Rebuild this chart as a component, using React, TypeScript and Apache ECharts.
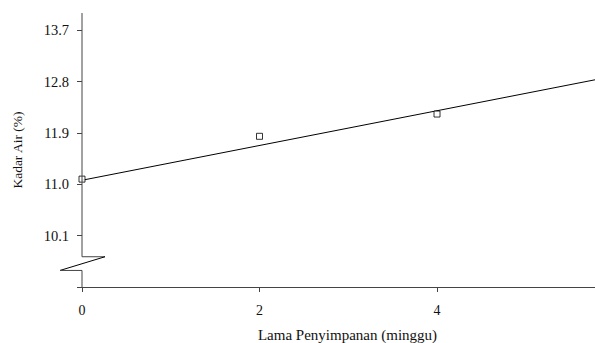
import React, { useEffect, useRef } from "react";
import * as echarts from "echarts";

const weeks = [0, 2, 4];
const moisture = [11.09, 11.84, 12.23];
const trendX = [0, 5.78];
const trendY = [11.07, 12.83];
const yTicks = [9.2, 10.1, 11.0, 11.9, 12.8, 13.7];
const yLabels = [10.1, 11.0, 11.9, 12.8, 13.7];
const xTicks = [0, 2, 4];
const breakTop = 9.73;
const breakBottom = 9.49;

const font = "Liberation Serif";
const axisColor = "#444";

export default function App() {
  const ref = useRef<HTMLDivElement>(null);
  useEffect(() => {
    if (!ref.current) return;
    const chart = echarts.init(ref.current, null, { renderer: "svg" });
    chart.setOption({
      animation: false,
      backgroundColor: "#fff",
      grid: { left: 82, right: 0, top: 13, bottom: 56, containLabel: false, outerBoundsMode: "none" },
      xAxis: {
        type: "value",
        min: 0,
        max: 5.78,
        name: "Lama Penyimpanan (minggu)",
        nameLocation: "middle",
        nameGap: 40,
        nameTextStyle: { fontFamily: font, fontSize: 15, color: "#111", padding: [0, 0, 0, 18] },
        splitLine: { show: false },
        axisLine: { show: true, onZero: false, lineStyle: { color: axisColor, width: 1 } },
        axisTick: { show: true, length: 5, customValues: xTicks, lineStyle: { color: axisColor } },
        axisLabel: {
          customValues: xTicks,
          margin: 16,
          fontFamily: font,
          fontSize: 14,
          color: "#111",
        },
      },
      yAxis: {
        type: "value",
        min: 9.2,
        max: 14.0,
        name: "Kadar Air (%)",
        nameLocation: "middle",
        nameGap: 58,
        nameTextStyle: { fontFamily: font, fontSize: 13.5, color: "#111" },
        splitLine: { show: false },
        axisLine: { show: false },
        axisTick: { show: true, length: 5, customValues: yTicks, lineStyle: { color: axisColor } },
        axisLabel: {
          customValues: yLabels,
          margin: 13,
          fontFamily: font,
          fontSize: 14.5,
          color: "#111",
          formatter: (v: number) => v.toFixed(1),
        },
      },
      series: [
        {
          type: "line",
          data: trendX.map((x, i) => [x, trendY[i]]),
          showSymbol: false,
          lineStyle: { color: "#000", width: 1 },
          z: 2,
        },
        {
          type: "scatter",
          data: weeks.map((x, i) => [x, moisture[i]]),
          symbol: "rect",
          symbolSize: 6,
          itemStyle: { color: "#fff", borderColor: "#000", borderWidth: 1 },
          z: 3,
        },
      ],
    });
    const p = (v: number) => chart.convertToPixel({ gridIndex: 0 }, [0, v]) as number[];
    const top = p(14.0);
    const bt = p(breakTop);
    const bb = p(breakBottom);
    const bot = p(9.2);
    chart.setOption({
      graphic: [
        {
          type: "polyline",
          shape: { points: [top, bt, [bt[0] + 23, bt[1]]] },
          style: { stroke: axisColor, lineWidth: 1, fill: null },
          z: 10,
        },
        {
          type: "polyline",
          shape: { points: [[bt[0] + 23, bt[1]], [bb[0] - 22, bb[1]]] },
          style: { stroke: "#000", lineWidth: 1, fill: null },
          z: 10,
        },
        {
          type: "polyline",
          shape: { points: [[bb[0] - 22, bb[1]], bb, bot] },
          style: { stroke: axisColor, lineWidth: 1, fill: null },
          z: 10,
        },
      ],
    });
    return () => chart.dispose();
  }, []);
  return (
    <div
      ref={ref}
      style={{ position: "fixed", left: 0, top: 0, width: 595, height: 343 }}
    />
  );
}
